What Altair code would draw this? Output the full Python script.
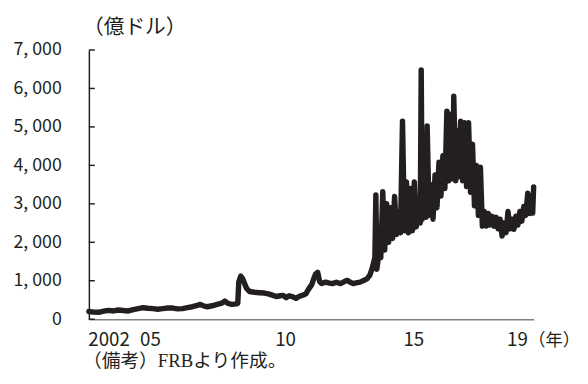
import altair as alt
import pandas as pd

# --- data (year as decimal, value in 億ドル) ---
years = [
    2002.650, 2002.836, 2003.022, 2003.209, 2003.395, 2003.581, 2003.767, 2003.954,
    2004.140, 2004.326, 2004.512, 2004.698, 2004.885, 2005.071, 2005.257, 2005.443,
    2005.630, 2005.816, 2006.002, 2006.188, 2006.374, 2006.561, 2006.747, 2006.859,
    2007.007, 2007.119, 2007.306, 2007.492, 2007.678, 2007.790, 2007.901, 2008.050,
    2008.237, 2008.274, 2008.311, 2008.386, 2008.460, 2008.535, 2008.609, 2008.721,
    2008.907, 2009.093, 2009.279, 2009.428, 2009.577, 2009.726, 2009.875, 2009.987,
    2010.099, 2010.211, 2010.359, 2010.471, 2010.583, 2010.732, 2010.844, 2010.955,
    2011.067, 2011.142, 2011.216, 2011.291, 2011.365, 2011.440, 2011.589, 2011.738,
    2011.849, 2011.998, 2012.147, 2012.296, 2012.408, 2012.520, 2012.631, 2012.780,
    2012.892, 2013.004, 2013.153, 2013.265, 2013.339, 2013.414, 2013.451, 2013.488,
    2013.525, 2013.600, 2013.674, 2013.749, 2013.823, 2013.898, 2013.972, 2014.047,
    2014.121, 2014.196, 2014.270, 2014.345, 2014.419, 2014.494, 2014.568, 2014.643,
    2014.717, 2014.792, 2014.866, 2014.941, 2015.015, 2015.089, 2015.164, 2015.201,
    2015.238, 2015.313, 2015.387, 2015.425, 2015.499, 2015.574, 2015.648, 2015.723,
    2015.797, 2015.872, 2015.946, 2016.021, 2016.095, 2016.170, 2016.244, 2016.319,
    2016.393, 2016.430, 2016.505, 2016.579, 2016.617, 2016.691, 2016.765, 2016.840,
    2016.914, 2016.989, 2017.063, 2017.138, 2017.212, 2017.287, 2017.361, 2017.436,
    2017.510, 2017.585, 2017.659, 2017.734, 2017.808, 2017.883, 2017.957, 2018.032,
    2018.106, 2018.181, 2018.255, 2018.330, 2018.404, 2018.479, 2018.553, 2018.628,
    2018.702, 2018.777, 2018.851, 2018.926, 2019.000, 2019.075, 2019.149, 2019.224,
    2019.298, 2019.373, 2019.410, 2019.447,
]
values = [
    200, 185, 180, 210, 230, 215, 240, 225,
    215, 250, 275, 300, 285, 275, 260, 275,
    290, 290, 270, 275, 300, 325, 360, 385,
    340, 325, 350, 385, 420, 470, 410, 385,
    400, 420, 965, 1120, 1050, 920, 800, 720,
    700, 690, 680, 660, 625, 590, 610, 620,
    560, 610, 580, 540, 590, 625, 660, 790,
    900, 1050, 1180, 1220, 980, 930, 965, 940,
    925, 960, 925, 980, 1010, 960, 925, 950,
    965, 1000, 1050, 1150, 1300, 1500, 1600, 3230,
    1300, 1700, 1600, 3315, 1800, 3000, 2000, 2900,
    2100, 3190, 2200, 2800, 2250, 5150, 2300, 3570,
    2250, 3400, 2300, 3570, 2400, 3100, 2500, 6480,
    2600, 3300, 2650, 5025, 2700, 3500, 2600, 3750,
    2900, 4085, 3200, 4250, 3400, 5410, 3600, 5330,
    3650, 5795, 3600, 4900, 3700, 5150, 3600, 5110,
    3450, 5110, 3300, 4550, 2950, 4000, 2700, 3950,
    2420, 2800, 2420, 2750, 2450, 2675, 2420, 2650,
    2350, 2600, 2160, 2500, 2250, 2800, 2350, 2600,
    2340, 2680, 2450, 2800, 2550, 2930, 2700, 3275,
    2750, 3200, 2760, 3440, 2335,
][: len(years)]

y_ticks = [0, 1000, 2000, 3000, 4000, 5000, 6000, 7000]
x_tick_pos = [2003.395, 2004.959, 2010.061, 2014.903, 2018.814]
x_tick_text = ["2002", "05", "10", "15", "19"]

y_title = "（億ドル）"
x_title = "（年）"
footnote = "（備考）FRBより作成。"

FONT = "Noto Sans CJK JP"
INK = "#231f20"
df = pd.DataFrame({"year": years, "value": values})
ticks_df = pd.DataFrame({"value": y_ticks})

label_expr = " : ".join(
    f"abs(datum.value - {p}) < 0.01 ? '{t}'" for p, t in zip(x_tick_pos, x_tick_text)
) + " : ''"

x_enc = alt.X(
    "year:Q",
    scale=alt.Scale(domain=[2002.65, 2019.447], nice=False, zero=False),
    axis=alt.Axis(
        values=x_tick_pos, labelExpr=label_expr, ticks=False, tickSize=0,
        grid=False, domainColor="#808080", domainWidth=1.5,
        labelFont=FONT, labelFontSize=19, labelColor=INK,
        labelPadding=12, labelFlush=False, labelOverlap=False,
        title=x_title, titleFont=FONT, titleFontSize=17.5, titleFontWeight="normal",
        titleColor=INK, titleAngle=0, titleAlign="left", titleBaseline="middle",
        titleX=445, titleY=22,
    ),
)
y_axis = alt.Axis(
    values=y_ticks, labelExpr="replace(format(datum.value, ','), ',', ', ')",
    ticks=False, tickSize=0, grid=False, domainColor=INK, domainWidth=1.5,
    labelFont=FONT, labelFontSize=18, labelColor=INK, labelPadding=28,
    labelFlush=False,
    title=y_title, titleFont=FONT, titleFontSize=21, titleFontWeight="normal",
    titleColor=INK, titleAngle=0, titleAlign="center", titleBaseline="middle",
    titleX=46, titleY=-23,
)
y_scale = alt.Scale(domain=[0, 7000], nice=False, zero=True)

line = alt.Chart(df).mark_line(
    color=INK, strokeWidth=5.5, strokeJoin="round", strokeCap="round"
).encode(x=x_enc, y=alt.Y("value:Q", scale=y_scale, axis=y_axis))

tick_rules = alt.Chart(ticks_df).mark_rule(color=INK, strokeWidth=1.5).encode(
    y=alt.Y("value:Q", scale=y_scale, axis=y_axis),
    x=alt.value(0), x2=alt.value(6),
)

note = alt.Chart(pd.DataFrame({"t": [footnote]})).mark_text(
    align="left", baseline="middle", font="Liberation Serif, Noto Sans CJK JP",
    fontSize=19, color=INK,
).encode(text="t:N", x=alt.value(-6), y=alt.value(315))

chart = alt.layer(tick_rules, line, note).properties(
    width=451, height=273,
    autosize=alt.AutoSizeParams(type="none"),
    padding={"left": 82, "top": 40, "right": 47, "bottom": 55},
).configure_view(stroke=None)

chart.save("out.html", embed_options={"renderer": "svg", "actions": False})
